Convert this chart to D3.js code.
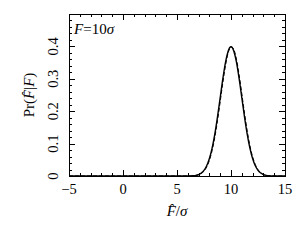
<!DOCTYPE html>
<html>
<head>
<meta charset="utf-8">
<script src="https://cdn.jsdelivr.net/npm/d3@7"></script>
<style>
  body { margin: 0; background: #fff; }
  text { font-family: "Liberation Serif", "DejaVu Serif", serif; fill: #000; }
</style>
</head>
<body>
<div id="chart"></div>
<script>
// x values in units of sigma
const fHat = [-5, 5, 5.5, 6, 6.25, 6.5, 6.75, 7, 7.25, 7.5, 7.75, 8, 8.25, 8.5, 8.75,
  9, 9.25, 9.5, 9.75, 10, 10.25, 10.5, 10.75, 11, 11.25, 11.5, 11.75, 12, 12.25,
  12.5, 12.75, 13, 13.25, 13.5, 13.75, 14, 14.5, 15];
// solid curve
const prSolid = [0, 0, 0.00002, 0.00013, 0.00035, 0.00087, 0.002, 0.0044, 0.0091, 0.0175,
  0.0317, 0.054, 0.0863, 0.1295, 0.1826, 0.242, 0.3011, 0.3521, 0.3867, 0.3989,
  0.3867, 0.3521, 0.3011, 0.242, 0.1826, 0.1295, 0.0863, 0.054, 0.0317, 0.0175,
  0.0091, 0.0044, 0.002, 0.00087, 0.00035, 0.00013, 0.00002, 0];
// dashed curve
const prDashed = [0, 0, 0.00001, 0.0001, 0.0003, 0.0007, 0.0016, 0.0037, 0.0077, 0.0152,
  0.0279, 0.0483, 0.0784, 0.1194, 0.1708, 0.2296, 0.2896, 0.3432, 0.3817, 0.3989,
  0.3914, 0.3609, 0.3122, 0.2538, 0.1937, 0.1389, 0.0935, 0.0592, 0.0351, 0.0196,
  0.0103, 0.005, 0.0023, 0.001, 0.0004, 0.00016, 0.00002, 0];
const xTicks = [-5, 0, 5, 10, 15];
const yTicks = [0, 0.1, 0.2, 0.3, 0.4];

const width = 300, height = 245;
const margin = { left: 69, right: 15, top: 14, bottom: 69 };

const svg = d3.select('#chart').append('svg')
  .attr('width', width)
  .attr('height', height);

const x = d3.scaleLinear().domain([-5, 15]).range([margin.left, width - margin.right]);
const y = d3.scaleLinear().domain([0, 0.5]).range([height - margin.bottom, margin.top]);

const x0 = x.range()[0], x1 = x.range()[1];
const y0 = y.range()[0], y1 = y.range()[1];

// minor/major ticks on all four sides, pointing in
const ticks = svg.append('g').attr('stroke', '#000').attr('stroke-width', 1);
d3.range(-5, 15.01, 1).forEach(v => {
  const len = v % 5 === 0 ? 6 : 3;
  const px = Math.round(x(v)) + 0.5;
  ticks.append('line').attr('x1', px).attr('x2', px).attr('y1', y0).attr('y2', y0 - len);
  ticks.append('line').attr('x1', px).attr('x2', px).attr('y1', y1).attr('y2', y1 + len);
});
d3.range(0, 0.501, 0.02).forEach(v => {
  const major = Math.abs(v * 10 - Math.round(v * 10)) < 1e-6;
  const len = major ? 6 : 3;
  const py = Math.round(y(v)) + 0.5;
  ticks.append('line').attr('y1', py).attr('y2', py).attr('x1', x0).attr('x2', x0 + len);
  ticks.append('line').attr('y1', py).attr('y2', py).attr('x1', x1).attr('x2', x1 - len);
});

svg.append('rect')
  .attr('x', x0 + 0.5).attr('y', y1 + 0.5)
  .attr('width', x1 - x0).attr('height', y0 - y1)
  .attr('fill', 'none').attr('stroke', '#000').attr('stroke-width', 1);

// tick labels
svg.append('g').selectAll('text').data(xTicks).enter().append('text')
  .attr('x', d => x(d)).attr('y', y0 + 18)
  .attr('text-anchor', 'middle').attr('font-size', '14.5px')
  .text(d => d < 0 ? '\u2212' + Math.abs(d) : d);

svg.append('g').selectAll('text').data(yTicks).enter().append('text')
  .attr('transform', d => 'translate(' + (x0 - 11) + ',' + y(d) + ') rotate(-90)')
  .attr('text-anchor', 'middle').attr('font-size', '14.5px')
  .text(d => d === 0 ? '0' : d3.format('.1f')(d));

// axis titles
const xt = svg.append('text')
  .attr('x', (x0 + x1) / 2).attr('y', y0 + 40)
  .attr('text-anchor', 'middle').attr('font-size', '15px');
xt.append('tspan').attr('font-style', 'italic').text('F\u0302');
xt.append('tspan').text('/');
xt.append('tspan').attr('font-style', 'italic').text('\u03c3');

const yt = svg.append('text')
  .attr('transform', 'translate(34,' + ((y0 + y1) / 2) + ') rotate(-90)')
  .attr('text-anchor', 'middle').attr('font-size', '15px');
yt.append('tspan').text('Pr(');
yt.append('tspan').attr('font-style', 'italic').text('F\u0302');
yt.append('tspan').text('|');
yt.append('tspan').attr('font-style', 'italic').text('F');
yt.append('tspan').text(')');

// annotation
const ann = svg.append('text')
  .attr('x', x0 + 5).attr('y', y1 + 20).attr('font-size', '15px');
ann.append('tspan').attr('font-style', 'italic').text('F');
ann.append('tspan').text('=10');
ann.append('tspan').attr('font-style', 'italic').text('\u03c3');

// curves
const line = d3.line().x(d => x(d[0])).y(d => y(d[1])).curve(d3.curveMonotoneX);

svg.append('path')
  .datum(fHat.map((f, i) => [f, prDashed[i]]))
  .attr('d', line)
  .attr('fill', 'none').attr('stroke', '#000').attr('stroke-width', 1)
  .attr('stroke-dasharray', '4,2');

svg.append('path')
  .datum(fHat.map((f, i) => [f, prSolid[i]]))
  .attr('d', line)
  .attr('fill', 'none').attr('stroke', '#000').attr('stroke-width', 1.4);
</script>
</body>
</html>
